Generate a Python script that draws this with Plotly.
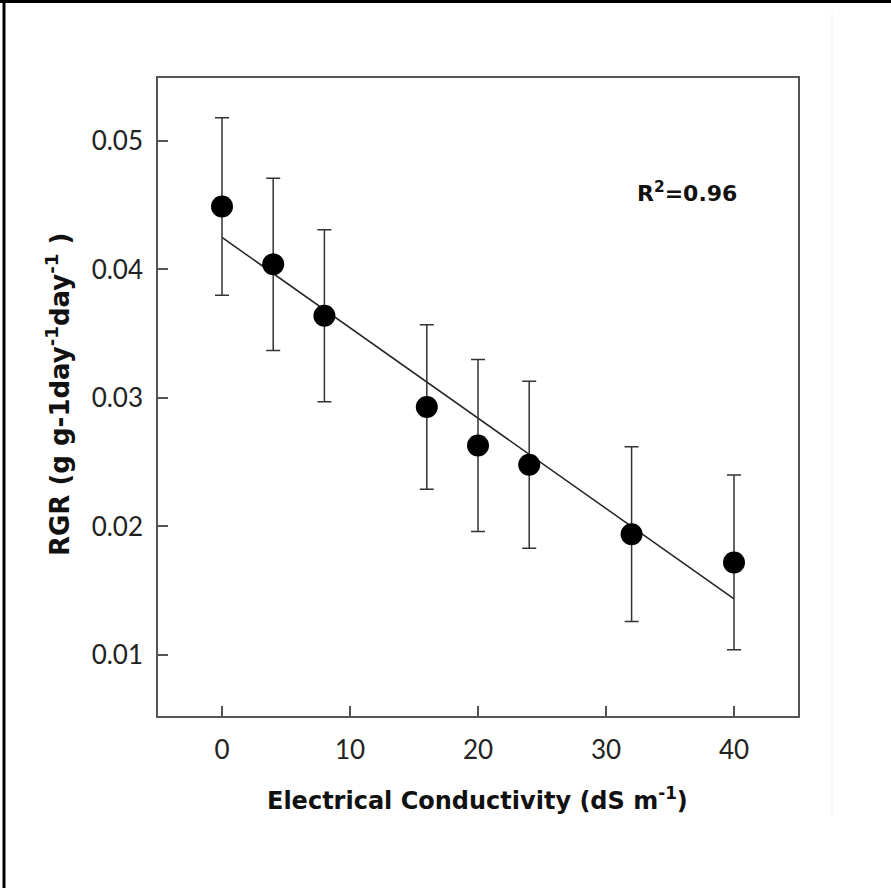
import numpy as np
import plotly.graph_objects as go

# Electrical conductivity treatments (dS m-1) and relative growth rate
ec = [0, 4, 8, 16, 20, 24, 32, 40]
rgr = [0.0449, 0.0404, 0.0364, 0.0293, 0.0263, 0.0248, 0.0194, 0.0172]
rgr_err = [0.0069, 0.0067, 0.0067, 0.0064, 0.0067, 0.0065, 0.0068, 0.0068]
r2_label = "R<sup>2</sup>=0.96"
x_title = "Electrical Conductivity (dS m<sup>-1</sup>)"
y_title = "RGR (g g-1day<sup>-1</sup>day<sup>-1</sup> )"

x_ticks = [0, 10, 20, 30, 40]
y_ticks = [0.01, 0.02, 0.03, 0.04, 0.05]

# Linear regression line over the treatment range
slope, intercept = np.polyfit(ec, rgr, 1)
fit_x = [min(ec), max(ec)]
fit_y = [intercept + slope * v for v in fit_x]

W, H = 891, 888
L, R, T, B = 158, 798, 78, 716

TICK_FONT = "Lato, 'Open Sans', sans-serif"
BOLD_FONT = "'DejaVu Sans', Verdana, sans-serif"


def px_x(p):
    return (p - L) / (R - L)


def px_y(p):
    return (B - p) / (B - T)


fig = go.Figure()
fig.add_trace(go.Scatter(
    x=fit_x, y=fit_y, mode="lines",
    line=dict(color="#222222", width=1.5),
    hoverinfo="skip", showlegend=False,
))
fig.add_trace(go.Scatter(
    x=ec, y=rgr, mode="markers",
    marker=dict(color="black", size=22, line=dict(width=0)),
    error_y=dict(type="data", array=rgr_err, visible=True,
                 color="#333333", thickness=1.5, width=7),
    showlegend=False,
))

axis_common = dict(
    showline=True, linecolor="#555555", linewidth=1.5, mirror=True,
    ticks="inside", ticklen=10, tickwidth=1.5, tickcolor="#555555",
    showgrid=False, zeroline=False,
    tickfont=dict(family=TICK_FONT, size=26, color="#222222"),
)

fig.update_xaxes(range=[-5, 45], tickvals=x_ticks, ticklabelstandoff=10, **axis_common)
fig.update_yaxes(range=[0.00525, 0.0549], tickvals=y_ticks, tickformat=".2f",
                 ticklabelstandoff=8, **axis_common)

# Axis titles
fig.add_annotation(
    xref="paper", yref="paper", x=px_x(477), y=px_y(799),
    xanchor="center", yanchor="middle", text=x_title, showarrow=False,
    font=dict(family=BOLD_FONT, size=24, color="#111111", weight="bold"),
)
fig.add_annotation(
    xref="paper", yref="paper", x=px_x(58), y=px_y(395),
    xanchor="center", yanchor="middle", textangle=-90, text=y_title, showarrow=False,
    font=dict(family=BOLD_FONT, size=26, color="#111111", weight="bold"),
)

fig.add_annotation(
    x=36.3, y=0.0460, xref="x", yref="y", text=r2_label, showarrow=False,
    font=dict(family=BOLD_FONT, size=22, color="#111111", weight="bold"),
)

# Frame lines along the left and top edges of the page, plus a faint rule
fig.add_shape(type="line", xref="paper", yref="paper",
              x0=px_x(4), x1=px_x(4), y0=px_y(0), y1=px_y(H),
              line=dict(color="black", width=3))
fig.add_shape(type="line", xref="paper", yref="paper",
              x0=px_x(0), x1=px_x(W), y0=px_y(1.5), y1=px_y(1.5),
              line=dict(color="black", width=3))
fig.add_shape(type="line", xref="paper", yref="paper",
              x0=px_x(832), x1=px_x(832), y0=px_y(12), y1=px_y(818),
              line=dict(color="#f2f2f2", width=1))

fig.update_layout(
    width=W, height=H, autosize=False,
    margin=dict(l=L, r=W - R, t=T, b=H - B, pad=0),
    paper_bgcolor="white", plot_bgcolor="white",
)

fig.write_html("out.html")
